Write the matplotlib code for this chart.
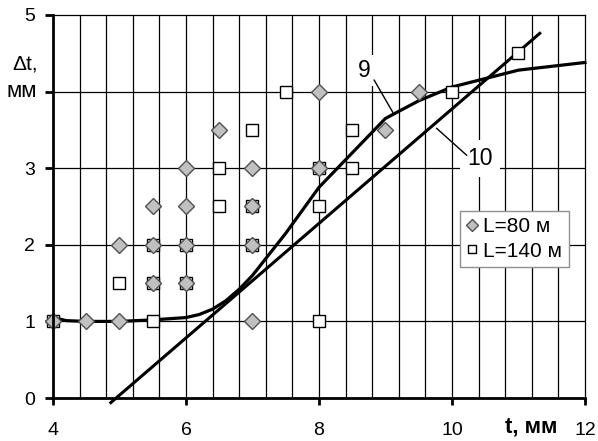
import numpy as np
import matplotlib.pyplot as plt

plt.rcParams['font.family'] = ['Liberation Sans', 'DejaVu Sans']

# measured points, L = 80 m (diamonds)
t80 = [4, 4.5, 5, 5, 5.5, 5.5, 5.5, 6, 6, 6, 6, 6.5, 7, 7, 7, 7, 8, 8, 9, 9.5]
d80 = [1, 1, 1, 2, 2.5, 2, 1.5, 3, 2.5, 2, 1.5, 3.5, 3, 2.5, 2, 1, 4, 3, 3.5, 4]

# measured points, L = 140 m (squares)
t140 = [4, 5, 5.5, 5.5, 5.5, 6, 6, 6.5, 6.5, 7, 7, 7, 7.5, 8, 8, 8, 8.5, 8.5, 10, 11]
d140 = [1, 1.5, 2, 1.5, 1, 2, 1.5, 3, 2.5, 3.5, 2.5, 2, 4, 3, 2.5, 1, 3.5, 3, 4, 4.5]

# curve 9
t9 = [4.0, 4.2, 4.5, 5.0, 5.5, 6.0, 6.2, 6.4, 6.6, 6.8, 7.0, 7.5, 8.0, 8.5, 9.0, 9.5, 10.0, 10.5, 11.0, 12.0]
d9 = [1.05, 1.01, 1.0, 1.0, 1.02, 1.05, 1.09, 1.16, 1.27, 1.42, 1.6, 2.15, 2.75, 3.2, 3.65, 3.88, 4.06, 4.17, 4.28, 4.38]

# line 10
t10 = [4.87, 11.32]
d10 = [-0.06, 4.76]

xticks = [4, 6, 8, 10, 12]
yticks = [0, 1, 2, 3, 4, 5]
ylabels = ['0', '1', '2', '3', '', '5']   # "мм" sits at the 4 position

fig = plt.figure(figsize=(5.98, 4.41), dpi=100)
ax = fig.add_axes([0.0886, 0.0975, 0.8896, 0.8685])

ax.set_xlim(4, 12)
ax.set_ylim(0, 5)

# grid
for gx in np.arange(4.4, 12.0, 0.4):
    ax.axvline(gx, color='black', lw=0.9, zorder=1)
for gy in range(1, 5):
    ax.axhline(gy, color='black', lw=0.9, zorder=1)

ax.plot(t9, d9, color='black', lw=2.3, zorder=3, clip_on=False)
ax.plot(t10, d10, color='black', lw=2.2, zorder=3, clip_on=False)

ax.plot(t140, d140, linestyle='none', marker='s', ms=8.5, mfc='white', mec='black',
        mew=1.0, label='L=140 м', zorder=4, clip_on=False)
ax.plot(t80, d80, linestyle='none', marker='D', ms=8.5, mfc='#c0c0c0', mec='#505050',
        mew=1.0, label='L=80 м', zorder=5, clip_on=False)

# curve labels with leaders
ax.text(8.68, 4.28, '9', fontsize=16.5, ha='center', va='center', zorder=6,
        bbox=dict(facecolor='white', edgecolor='none', pad=3))
ax.plot([8.83, 9.11], [4.15, 3.73], color='black', lw=1.0, zorder=6)
ax.text(10.42, 3.13, '10', fontsize=16.5, ha='center', va='center', zorder=6,
        bbox=dict(facecolor='white', edgecolor='none', pad=5))
ax.plot([9.77, 10.22], [3.52, 3.17], color='black', lw=1.0, zorder=6)

h, l = ax.get_legend_handles_labels()
leg = ax.legend(h[::-1], l[::-1], loc='upper left', bbox_to_anchor=(0.766, 0.488),
                fontsize=15, handlelength=0.55, handletextpad=0.25, borderpad=0.3,
                labelspacing=0.25, borderaxespad=0, fancybox=False, framealpha=1,
                edgecolor='#909090', markerscale=0.75)
leg.get_frame().set_linewidth(1.0)
leg.set_zorder(7)

for s in ['top', 'right']:
    ax.spines[s].set_linewidth(0.9)
for s in ['left', 'bottom']:
    ax.spines[s].set_linewidth(2.0)
    ax.spines[s].set_zorder(6)

ax.set_xticks(xticks)
ax.set_yticks(yticks)
ax.set_yticklabels(ylabels)
ax.tick_params(direction='out', width=2, labelsize=14)
ax.tick_params(axis='x', length=5, pad=12)
ax.tick_params(axis='y', length=6, pad=7)

trans = ax.get_yaxis_transform()
ax.text(-0.052, 4.36, 'Δt,', transform=trans, fontsize=15,
        ha='center', va='center')
ax.text(-0.059, 4.0, 'мм', transform=trans, fontsize=16,
        ha='center', va='center')
ax.text(0.898, -0.076, 't, мм', transform=ax.transAxes, fontsize=16,
        fontweight='bold', ha='center', va='center')

fig.savefig('out.png', dpi=100)
